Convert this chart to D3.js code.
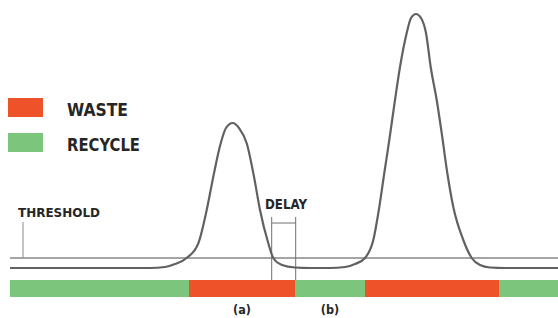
<!DOCTYPE html>
<html>
<head>
<meta charset="utf-8">
<script src="https://cdn.jsdelivr.net/npm/d3@7"></script>
<style>
  html, body { margin: 0; padding: 0; background: #fff; }
  svg { display: block; }
  .lbl { font-family: "DejaVu Sans Condensed", "Liberation Sans Narrow", sans-serif; font-weight: bold; fill: #262626; }
</style>
</head>
<body>
<div id="chart"></div>
<script>
// signal trace, time (t) vs level
var sigT = [0, 140, 155, 165, 176.7, 188.3, 196.7, 203.3, 210.7, 216, 222.7, 229, 236.7, 244, 250, 258.3, 263.3, 272, 285, 300,
            320, 335, 345, 355, 363.3, 369.3, 374.3, 379.3, 385, 390, 396.7, 401, 406, 411, 416, 420.7, 426.7, 431.7, 437.3, 443.3, 453.3, 461.7, 470, 480, 495, 548];
var sigV = [0, 0, 1, 4, 10, 24.7, 58, 91.3, 124.7, 140, 145, 140, 124.7, 91.3, 58, 24.7, 10, 3, 0.5, 0,
            0, 1, 4, 10, 28, 61, 95, 128, 168, 201, 235, 250, 254, 250, 235, 201, 168, 135, 95, 61, 28, 10, 3, 0.5, 0, 0];
var threshold = 10;

// valve state strip
var segStart = [0, 179, 285, 355, 489];
var segEnd   = [179, 285, 355, 489, 548];
var segState = ["RECYCLE", "WASTE", "RECYCLE", "WASTE", "RECYCLE"];
var segLabel = ["", "(a)", "(b)", "", ""];

// delay marker
var delayT = [261.7, 285.7];

var legendKeys = ["WASTE", "RECYCLE"];
var colors = {"WASTE": "#ee5228", "RECYCLE": "#7cc57c"};

var width = 558, height = 318;

var svg = d3.select("#chart").append("svg")
	.attr("width", width)
	.attr("height", height);

var x = d3.scaleLinear().domain([0, 548]).range([10, 558]);
var y = d3.scaleLinear().domain([0, 260]).range([268, 8]);

// threshold line
svg.append("line")
	.attr("x1", x(0)).attr("x2", x(548))
	.attr("y1", y(threshold)).attr("y2", y(threshold))
	.style("stroke", "#a5a5a5")
	.style("stroke-width", 2);

// threshold label + tick
svg.append("line")
	.attr("x1", x(13)).attr("x2", x(13))
	.attr("y1", 222).attr("y2", y(threshold))
	.style("stroke", "#8a8a8a")
	.style("stroke-width", 1);
svg.append("text")
	.attr("class", "lbl")
	.attr("x", 18).attr("y", 217)
	.attr("textLength", 82).attr("lengthAdjust", "spacingAndGlyphs")
	.style("font-size", "13px")
	.text("THRESHOLD");

// delay bracket
var dl = svg.append("g").style("stroke", "#707070").style("stroke-width", 1);
dl.selectAll("line.v").data(delayT).enter().append("line")
	.attr("class", "v")
	.attr("x1", function(d) { return x(d); })
	.attr("x2", function(d) { return x(d); })
	.attr("y1", 217).attr("y2", 280);
dl.append("line")
	.attr("x1", x(delayT[0])).attr("x2", x(delayT[1]))
	.attr("y1", 223).attr("y2", 223);
svg.append("text")
	.attr("class", "lbl")
	.attr("x", 265).attr("y", 209)
	.attr("textLength", 42).attr("lengthAdjust", "spacingAndGlyphs")
	.style("font-size", "14px")
	.text("DELAY");

// signal
var pts = sigT.map(function(t, i) { return [t, sigV[i]]; });
var line = d3.line()
	.x(function(d) { return x(d[0]); })
	.y(function(d) { return y(d[1]); })
	.curve(d3.curveMonotoneX);
svg.append("path")
	.datum(pts)
	.attr("d", line)
	.style("fill", "none")
	.style("stroke", "#616161")
	.style("stroke-width", 2.2);

// state strip
svg.selectAll("rect.seg").data(segStart).enter().append("rect")
	.attr("class", "seg")
	.attr("x", function(d) { return x(d); })
	.attr("y", 280)
	.attr("width", function(d, i) { return x(segEnd[i]) - x(d); })
	.attr("height", 17)
	.style("fill", function(d, i) { return colors[segState[i]]; });

svg.selectAll("text.seglbl").data(segStart).enter().append("text")
	.attr("class", "lbl")
	.attr("x", function(d, i) { return (x(d) + x(segEnd[i])) / 2; })
	.attr("y", 314)
	.attr("text-anchor", "middle")
	.style("font-size", "12.5px")
	.text(function(d, i) { return segLabel[i]; });

// legend
var lg = svg.selectAll("g.leg").data(legendKeys).enter().append("g")
	.attr("class", "leg")
	.attr("transform", function(d, i) { return "translate(8," + (98 + i * 35) + ")"; });
lg.append("rect")
	.attr("width", 35).attr("height", 19)
	.style("fill", function(d) { return colors[d]; });
lg.append("text")
	.attr("class", "lbl")
	.attr("x", 59).attr("y", 18)
	.attr("textLength", function(d) { return d === "WASTE" ? 61 : 73; })
	.attr("lengthAdjust", "spacingAndGlyphs")
	.style("font-size", "17px")
	.text(function(d) { return d; });
</script>
</body>
</html>
